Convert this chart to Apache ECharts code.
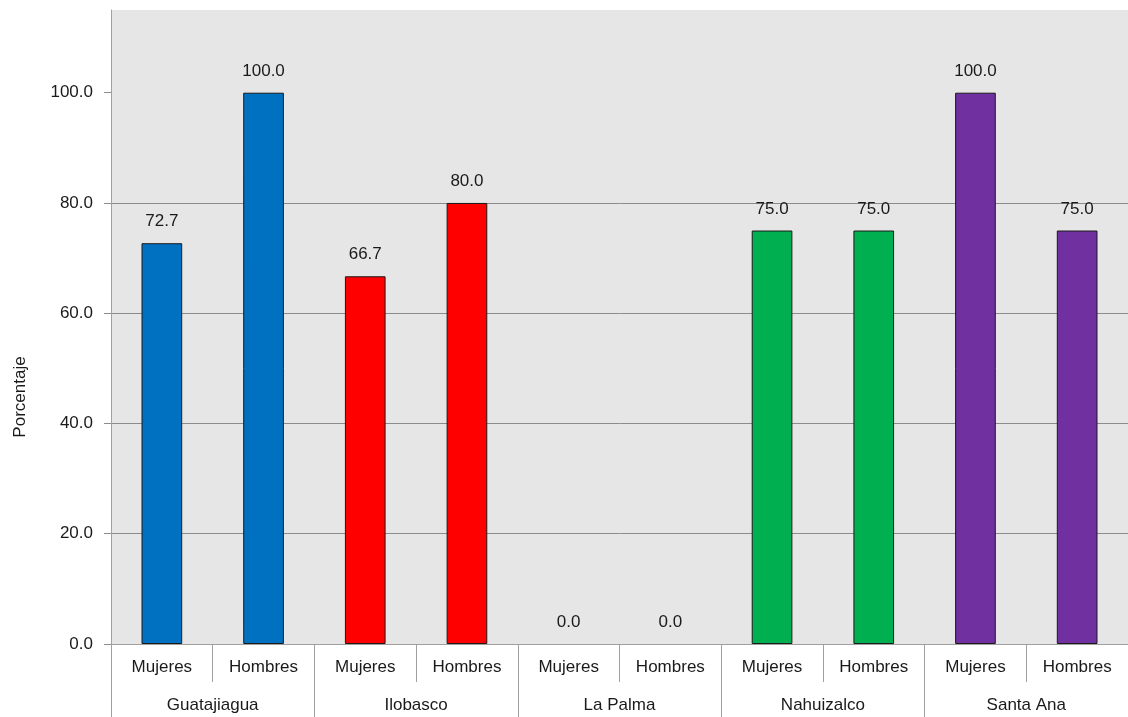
<!DOCTYPE html>
<html>
<head>
<meta charset="utf-8">
<script src="https://cdn.jsdelivr.net/npm/echarts@6/dist/echarts.min.js"></script>
<style>html,body{margin:0;padding:0;background:#fff}#c{width:1128px;height:717px}</style>
</head>
<body>
<div id="c"></div>
<script>
var groups = ['Guatajiagua', 'Ilobasco', 'La Palma', 'Nahuizalco', 'Santa Ana'];
var sexes = ['Mujeres', 'Hombres'];
var mujeres = [72.7, 66.7, 0.0, 75.0, 100.0];
var hombres = [100.0, 80.0, 0.0, 75.0, 75.0];
var groupColors = ['#0070C0', '#FF0000', '#00B050', '#00B050', '#7030A0'];
var yTicks = [0, 20, 40, 60, 80, 100];

var cats = [];
var data = [];
function item(v, col) {
  return { value: v, itemStyle: { color: col, borderWidth: v === 0 ? 0 : 1 } };
}
for (var i = 0; i < groups.length; i++) {
  cats.push(sexes[0], sexes[1]);
  data.push(item(mujeres[i], groupColors[i]));
  data.push(item(hombres[i], groupColors[i]));
}

var font = 'Liberation Sans, Arial, sans-serif';
var chart = echarts.init(document.getElementById('c'), null, { renderer: 'canvas' });
chart.setOption({
  animation: false,
  textStyle: { fontFamily: font },
  grid: { left: 111, right: 0, top: 10, bottom: 73, show: true, backgroundColor: '#e6e6e6', borderWidth: 0 },
  xAxis: [
    {
      type: 'category', data: cats, position: 'bottom',
      axisLine: { show: true, lineStyle: { color: '#a0a0a0', width: 1 } },
      axisTick: { show: true, interval: 0, length: 38, lineStyle: { color: '#a0a0a0' } },
      axisLabel: { interval: 0, margin: 15, fontSize: 17, color: '#1a1a1a', fontFamily: font }
    },
    {
      type: 'category', data: groups, position: 'bottom',
      axisLine: { show: false },
      axisTick: { show: true, interval: 0, length: 73, lineStyle: { color: '#a0a0a0' } },
      axisLabel: { interval: 0, margin: 53, fontSize: 17, color: '#1a1a1a', fontFamily: font }
    }
  ],
  yAxis: {
    type: 'value', min: 0, max: 115, interval: 20,
    axisLine: { show: true, lineStyle: { color: '#a0a0a0' } },
    axisTick: { show: true, length: 7, customValues: yTicks, lineStyle: { color: '#8c8c8c' } },
    axisLabel: { customValues: yTicks, margin: 18, fontSize: 17, color: '#1a1a1a', fontFamily: font,
      formatter: function (v) { return v.toFixed(1); } },
    splitLine: { show: true, showMaxLine: false, showMinLine: false, lineStyle: { color: '#8c8c8c', width: 1 } }
  },
  graphic: [{
    type: 'text', x: 20, y: 397, rotation: Math.PI / 2,
    style: { text: 'Porcentaje', fontSize: 17, fontFamily: font, fill: '#1a1a1a', textAlign: 'center', textVerticalAlign: 'middle' }
  }],
  series: [{
    type: 'bar', xAxisIndex: 0, data: data, barWidth: '40%',
    itemStyle: { borderColor: '#1a1a1a', borderWidth: 1 },
    label: { show: true, position: 'top', distance: 13, fontSize: 17, color: '#1a1a1a', fontFamily: font,
      formatter: function (p) { return p.value.toFixed(1); } }
  }]
});
</script>
</body>
</html>
